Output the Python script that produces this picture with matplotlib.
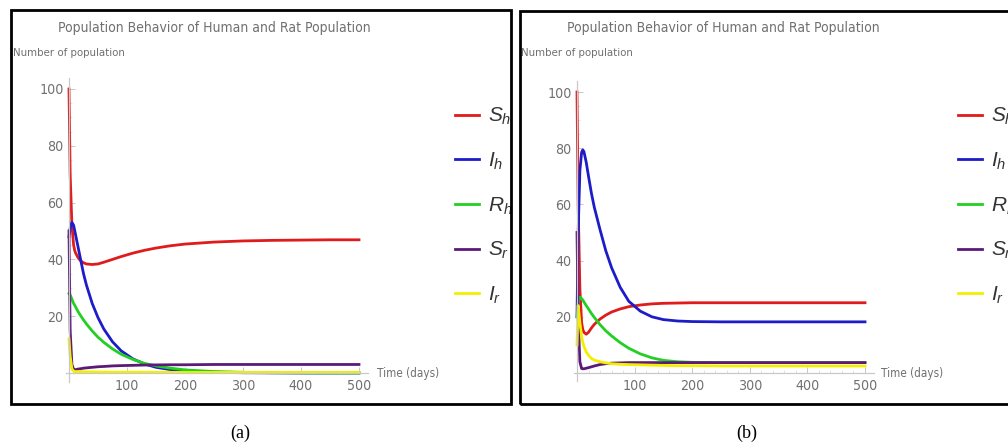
import numpy as np
import matplotlib
matplotlib.use('Agg')
import matplotlib.pyplot as plt
from matplotlib.patches import Rectangle

# readings taken off the two panels (time in days)
t = [0, 2, 5, 8, 10, 12, 16, 20, 25, 30, 40, 50, 60, 75, 90, 110, 130, 150,
     175, 200, 250, 300, 350, 400, 450, 500]

# panel (a)
sh_a = [100, 70, 52, 45, 43, 42, 40.5, 39.5, 38.8, 38.4, 38.2, 38.4, 39, 40, 41,
        42.2, 43.2, 44, 44.8, 45.4, 46.1, 46.5, 46.7, 46.8, 46.9, 46.9]
ih_a = [48, 51, 53, 52, 50, 48, 44, 40, 35, 31, 24.5, 19.5, 15.5, 11, 7.8, 5,
        3.2, 2, 1.2, 0.7, 0.3, 0.1, 0.05, 0, 0, 0]
rh_a = [28, 27.5, 26, 24.5, 23.8, 23, 21.5, 20.2, 18.7, 17.3, 14.8, 12.6, 10.8,
        8.5, 6.6, 4.8, 3.4, 2.5, 1.7, 1.1, 0.5, 0.25, 0.1, 0.05, 0, 0]
sr_a = [50, 15, 3, 1.2, 1.2, 1.2, 1.4, 1.5, 1.7, 1.8, 2.0, 2.2, 2.3, 2.5, 2.6,
        2.7, 2.8, 2.85, 2.9, 2.9, 3, 3, 3, 3, 3, 3]
ir_a = [12, 6, 1.5, 0.6, 0.5, 0.5, 0.5, 0.5, 0.45, 0.4, 0.4, 0.35, 0.35, 0.3,
        0.3, 0.3, 0.25, 0.25, 0.25, 0.2, 0.2, 0.2, 0.2, 0.2, 0.2, 0.2]

# panel (b)
sh_b = [100, 60, 30, 18, 15.5, 14.5, 13.8, 14.5, 16, 17.3, 19.2, 20.6, 21.7,
        22.8, 23.6, 24.2, 24.6, 24.8, 24.9, 25, 25, 25, 25, 25, 25, 25]
ih_b = [20, 50, 72, 78.5, 79.4, 78.8, 75, 70, 64, 59, 51, 43.5, 37.5, 30.5,
        25.5, 22, 20, 19, 18.5, 18.3, 18.2, 18.2, 18.2, 18.2, 18.2, 18.2]
rh_b = [20, 25, 27, 26.5, 26, 25.3, 24, 22.8, 21.2, 19.8, 17.2, 15, 13.2, 10.8,
        8.8, 6.8, 5.4, 4.5, 4, 3.8, 3.7, 3.7, 3.7, 3.7, 3.7, 3.7]
sr_b = [50, 20, 4, 1.6, 1.5, 1.5, 1.7, 1.9, 2.2, 2.5, 3, 3.3, 3.5, 3.6, 3.7,
        3.7, 3.7, 3.7, 3.7, 3.7, 3.7, 3.7, 3.7, 3.7, 3.7, 3.7]
ir_b = [10, 24, 18, 13, 11, 9.5, 7.5, 6.3, 5.2, 4.6, 4, 3.6, 3.3, 3.1, 3, 2.9,
        2.8, 2.7, 2.6, 2.6, 2.5, 2.5, 2.5, 2.5, 2.5, 2.5]

names = [r'$S_h$', r'$I_h$', r'$R_h$', r'$S_r$', r'$I_r$']
colors = ['#e01b1b', '#1c1cc8', '#22d022', '#5c1a78', '#f2f000']
xticks = [100, 200, 300, 400, 500]
yticks = [20, 40, 60, 80, 100]

plt.rcParams['font.family'] = ['DejaVu Sans']
plt.rcParams['font.stretch'] = 'condensed'
plt.rcParams['mathtext.fontset'] = 'custom'
plt.rcParams['mathtext.it'] = 'Liberation Sans:italic'
plt.rcParams['mathtext.rm'] = 'Liberation Sans'

W, H = 1008, 442
fig = plt.figure(figsize=(W / 100, H / 100), dpi=100)


def fx(px):
    return px / W


def fy(py):
    return 1 - py / H


def panel(series, ox, x500, oy, y100, title_x, ylab_x, time_x, leg_x, tag_x, tag):
    sx = (x500 - ox) / 500.0
    sy = (oy - y100) / 100.0
    x0, x1 = -5, 515
    y0, y1 = -3, 104
    left = ox + x0 * sx
    bottom = oy - y0 * sy
    ax = fig.add_axes([fx(left), fy(bottom), (x1 - x0) * sx / W, (y1 - y0) * sy / H])
    lines = []
    for vals, c, n in zip(series, colors, names):
        ln, = ax.plot(t, vals, color=c, lw=2.0, label=n, solid_joinstyle='round')
        lines.append(ln)
    ax.set_xlim(x0, x1)
    ax.set_ylim(y0, y1)
    for s in ['top', 'right']:
        ax.spines[s].set_visible(False)
    ax.spines['left'].set_position(('data', 0))
    ax.spines['bottom'].set_position(('data', 0))
    for s in ['left', 'bottom']:
        ax.spines[s].set_color('#c8c8c8')
        ax.spines[s].set_linewidth(0.9)
    ax.set_xticks(xticks)
    ax.set_yticks(yticks)
    ax.set_xticks(np.arange(20, 501, 20), minor=True)
    ax.set_yticks(np.arange(5, 101, 5), minor=True)
    ax.tick_params(which='major', direction='in', length=4, width=0.7,
                   color='#c8c8c8', labelcolor='#707070', labelsize=10.2, pad=4)
    ax.tick_params(which='minor', direction='in', length=2, width=0.5, color='#d8d8d8')
    ax.patch.set_alpha(0)

    fig.text(fx(title_x), fy(28), 'Population Behavior of Human and Rat Population',
             fontsize=10.0, color='#707070', ha='left', va='center')
    fig.text(fx(ylab_x), fy(53), 'Number of population', fontsize=8.2,
             color='#707070', ha='left', va='center')
    fig.text(fx(time_x), fy(374), 'Time (days)', fontsize=8.4,
             color='#707070', ha='left', va='center')
    fig.text(fx(tag_x), fy(433), tag, fontsize=13, stretch='normal',
             family='Liberation Serif', ha='center', va='center')

    ax.legend(handles=lines, loc='upper left', bbox_to_anchor=(fx(leg_x), fy(106)),
              bbox_transform=fig.transFigure, frameon=False, fontsize=15,
              handlelength=1.15, handletextpad=0.45, labelspacing=1.12,
              borderpad=0, borderaxespad=0, labelcolor='#333333')
    return ax


panel([sh_a, ih_a, rh_a, sr_a, ir_a], 69, 359, 373, 89, 58, 13, 377, 455, 240, '(a)')
panel([sh_b, ih_b, rh_b, sr_b, ir_b], 577, 865, 373, 92, 567, 521, 881, 958, 747, '(b)')

# frames around the two panels
fig.patches.append(Rectangle((fx(11), fy(404)), fx(500), (404 - 10) / H,
                             transform=fig.transFigure, fill=False, lw=2, ec='black'))
fig.patches.append(Rectangle((fx(520), fy(404)), fx(500), (404 - 11) / H,
                             transform=fig.transFigure, fill=False, lw=2, ec='black'))

fig.savefig('out.png', dpi=100)
